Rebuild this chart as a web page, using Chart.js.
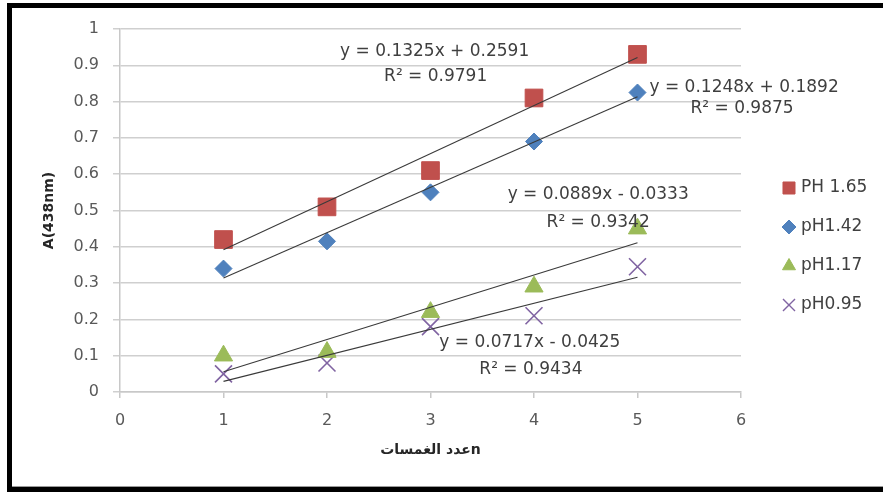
<!DOCTYPE html>
<html>
<head>
<meta charset="utf-8">
<script src="https://cdn.jsdelivr.net/npm/chart.js@4/dist/chart.umd.min.js"></script>
<style>
  html, body { margin: 0; padding: 0; background: #ffffff; }
  canvas { display: block; }
</style>
</head>
<body>
<canvas id="chart" width="883" height="492"></canvas>
<script>
// Absorbance at 438 nm against number of dips, one series per pH
const dipCounts = [1, 2, 3, 4, 5];
const seriesNames = ['PH 1.65', 'pH1.42', 'pH1.17', 'pH0.95'];
const absPH165 = [0.42, 0.51, 0.61, 0.81, 0.93];
const absPH142 = [0.34, 0.415, 0.55, 0.69, 0.825];
const absPH117 = [0.10, 0.11, 0.22, 0.29, 0.45];
const absPH095 = [0.05, 0.08, 0.18, 0.21, 0.345];

// Linear fits: y = slope * x + intercept
const trendSlopes = [0.1325, 0.1248, 0.0889, 0.0717];
const trendIntercepts = [0.2591, 0.1892, -0.0333, -0.0425];
const trendR2 = [0.9791, 0.9875, 0.9342, 0.9434];
const trendRange = [1, 5];

const xTickLabels = ['0', '1', '2', '3', '4', '5', '6'];
const yTickLabels = ['0', '0.1', '0.2', '0.3', '0.4', '0.5', '0.6', '0.7', '0.8', '0.9', '1'];
const xTitle = 'عدد الغمساتn';
const yTitle = 'A(438nm)';

const seriesValues = [absPH165, absPH142, absPH117, absPH095];
const seriesColors = ['#C0504D', '#4F81BD', '#9BBB59', '#8064A2'];
const seriesStyles = ['rect', 'rectRot', 'triangle', 'crossRot'];
const seriesRadius = [12.5, 8.5, 10.5, 12];
const legendRadius = [8.5, 7, 7.5, 8.5];

const FONT = '"DejaVu Sans", "Liberation Sans", sans-serif';

function fmtEquation(i) {
  const m = trendSlopes[i].toFixed(4);
  const b = trendIntercepts[i];
  const sign = b < 0 ? '-' : '+';
  return 'y = ' + m + 'x ' + sign + ' ' + Math.abs(b).toFixed(4);
}
function fmtR2(i) {
  return 'R\u00B2 = ' + trendR2[i].toFixed(4);
}

const datasets = [];
// fitted lines (drawn above the markers)
seriesNames.forEach((name, i) => {
  datasets.push({
    label: name + ' fit',
    data: trendRange.map(x => ({ x: x, y: trendSlopes[i] * x + trendIntercepts[i] })),
    showLine: true,
    borderColor: '#3a3a3a',
    borderWidth: 1.1,
    pointRadius: 0,
    fill: false,
    order: 0
  });
});
// measured points
seriesNames.forEach((name, i) => {
  datasets.push({
    label: name,
    data: dipCounts.map((x, k) => ({ x: x, y: seriesValues[i][k] })),
    showLine: false,
    pointStyle: seriesStyles[i],
    pointRadius: seriesRadius[i],
    pointHoverRadius: seriesRadius[i],
    backgroundColor: seriesColors[i],
    borderColor: seriesColors[i],
    borderWidth: seriesStyles[i] === 'crossRot' ? 1.6 : 1,
    order: 1
  });
});

// Equation / R² annotations, anchored in data coordinates
const annotationPlugin = {
  id: 'fitLabels',
  afterDatasetsDraw(chart, args, opts) {
    const { ctx, scales: { x, y } } = chart;
    ctx.save();
    ctx.font = '17px ' + FONT;
    ctx.fillStyle = '#3f3f3f';
    ctx.textAlign = 'center';
    ctx.textBaseline = 'middle';
    opts.anchors.forEach((a, i) => {
      ctx.fillText(fmtEquation(i), x.getPixelForValue(a[0][0]), y.getPixelForValue(a[0][1]));
      ctx.fillText(fmtR2(i), x.getPixelForValue(a[1][0]), y.getPixelForValue(a[1][1]));
    });
    ctx.restore();
  }
};

// Legend on the right side
const sideLegend = {
  id: 'sideLegend',
  afterDraw(chart, args, opts) {
    const ctx = chart.ctx;
    ctx.save();
    seriesNames.forEach((name, i) => {
      const yy = opts.top + i * opts.rowGap;
      ctx.fillStyle = seriesColors[i];
      ctx.strokeStyle = seriesColors[i];
      ctx.lineWidth = seriesStyles[i] === 'crossRot' ? 1.4 : 1;
      Chart.helpers.drawPoint(ctx, {
        pointStyle: seriesStyles[i],
        radius: legendRadius[i],
        rotation: 0,
        borderWidth: ctx.lineWidth
      }, opts.iconX, yy);
      ctx.font = '17px ' + FONT;
      ctx.fillStyle = '#404040';
      ctx.textAlign = 'left';
      ctx.textBaseline = 'middle';
      ctx.fillText(name, opts.textX, yy);
    });
    ctx.restore();
  }
};

// White background and black frame around the figure
const framePlugin = {
  id: 'frame',
  beforeDraw(chart) {
    const ctx = chart.ctx;
    ctx.save();
    ctx.fillStyle = '#ffffff';
    ctx.fillRect(0, 0, chart.width, chart.height);
    ctx.restore();
  },
  afterDraw(chart) {
    const ctx = chart.ctx;
    ctx.save();
    ctx.fillStyle = '#000000';
    ctx.fillRect(7, 3, chart.width - 7, 5);
    ctx.fillRect(7, 3, 5, chart.height - 3);
    ctx.fillRect(7, chart.height - 5, chart.width - 7, 5);
    ctx.fillStyle = '#9a9a9a';
    ctx.fillRect(12, chart.height - 6, chart.width - 12, 1);
    ctx.restore();
  }
};

new Chart(document.getElementById('chart'), {
  type: 'scatter',
  data: { datasets: datasets },
  options: {
    responsive: false,
    animation: false,
    devicePixelRatio: 1,
    layout: { padding: { left: 0, right: 142, top: 29, bottom: 0 } },
    plugins: {
      legend: { display: false },
      tooltip: { enabled: false },
      fitLabels: {
        anchors: [
          [[3.04, 0.937], [3.05, 0.868]],
          [[6.03, 0.840], [6.01, 0.782]],
          [[4.62, 0.543], [4.62, 0.468]],
          [[3.96, 0.135], [3.97, 0.063]]
        ]
      },
      sideLegend: { iconX: 789, textX: 801, top: 188, rowGap: 39 }
    },
    scales: {
      x: {
        type: 'linear',
        min: 0, max: 6,
        afterFit(scale) { scale.height = 100; },
        ticks: {
          stepSize: 1,
          padding: 13,
          color: '#595959',
          font: { family: FONT, size: 16 },
          callback: (v, idx) => xTickLabels[idx]
        },
        grid: {
          drawOnChartArea: false,
          drawTicks: true,
          tickLength: 6,
          color: '#c8c8c8',
          lineWidth: 1.5
        },
        border: { display: true, color: '#c8c8c8', width: 1.5 },
        title: {
          display: true,
          text: xTitle,
          color: '#262626',
          font: { family: FONT, size: 14, weight: 'bold' },
          padding: { top: 0, bottom: 33 }
        }
      },
      y: {
        type: 'linear',
        min: 0, max: 1,
        afterFit(scale) { scale.width = 120; },
        ticks: {
          stepSize: 0.1,
          padding: 14,
          color: '#595959',
          font: { family: FONT, size: 16 },
          callback: (v, idx) => yTickLabels[idx]
        },
        grid: {
          drawTicks: true,
          tickLength: 7,
          color: '#cfcfcf',
          lineWidth: 1.5
        },
        border: { display: true, color: '#c8c8c8', width: 1.5 },
        title: {
          display: true,
          text: yTitle,
          color: '#262626',
          font: { family: FONT, size: 14, weight: 'bold' },
          padding: { top: 41, bottom: 0 }
        }
      }
    }
  },
  plugins: [framePlugin, annotationPlugin, sideLegend]
});
</script>
</body>
</html>
